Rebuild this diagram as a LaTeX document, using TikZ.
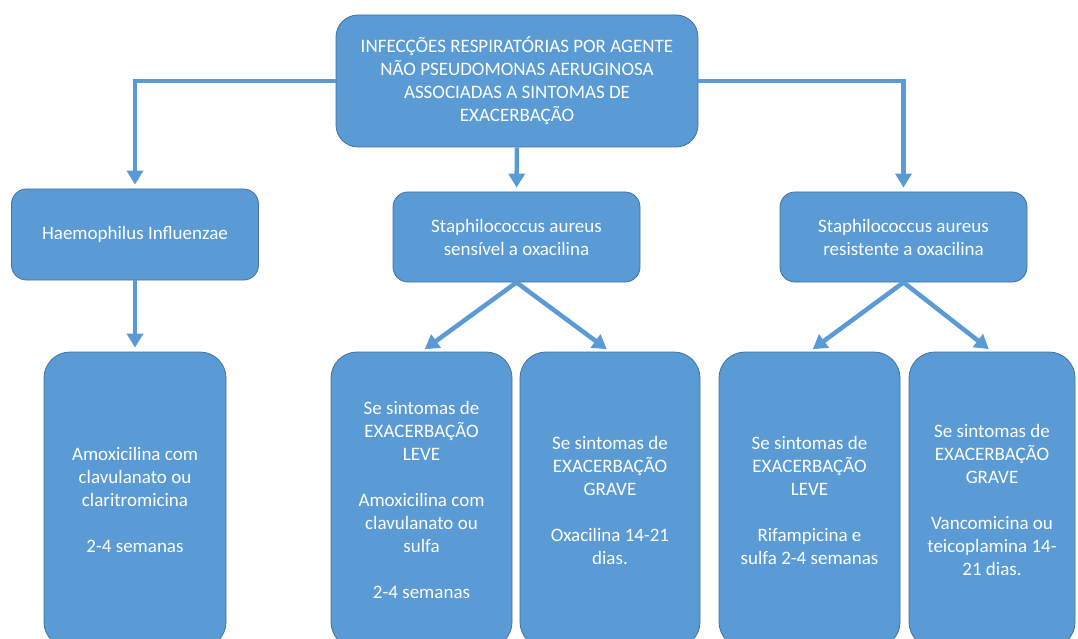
\documentclass[tikz,border=0pt]{standalone}
\usepackage{fontspec}
\setmainfont{Carlito}
\usetikzlibrary{arrows.meta}

\definecolor{boxblue}{HTML}{5B9BD5}
\definecolor{boxedge}{HTML}{41719C}

\begin{document}
\begin{tikzpicture}[x=1pt, y=-1pt,
    box/.style={draw=boxedge, line width=0.8pt, fill=boxblue, text=white,
        align=center, inner sep=0pt, font=\fontsize{19}{23}\selectfont},
    arrow/.style={draw=boxblue, line width=4.5pt,
        -{Triangle[width=16pt,length=14pt]}, shorten >=4pt}]
\useasboundingbox (0,0) rectangle (1078,639);
\clip (0,0) rectangle (1078,639);

% Draw top box.
\node[box, minimum width=362, minimum height=132, rounded corners=22pt]
    (infeccao) at (517,81)
    {INFECÇÕES RESPIRATÓRIAS POR AGENTE\\NÃO PSEUDOMONAS AERUGINOSA\\
     ASSOCIADAS A SINTOMAS DE\\EXACERBAÇÃO};

% Draw agent boxes.
\node[box, minimum width=247, minimum height=91, rounded corners=15pt]
    (haemophilus) at (135,234.5) {Haemophilus Influenzae};
\node[box, minimum width=247, minimum height=90, rounded corners=15pt]
    (sensivel) at (516.5,237) {Staphilococcus aureus\\sensível a oxacilina};
\node[box, minimum width=247, minimum height=90, rounded corners=15pt]
    (resistente) at (903.5,237) {Staphilococcus aureus\\resistente a oxacilina};

% Draw treatment boxes.
\node[box, minimum width=182, minimum height=296, rounded corners=26pt]
    (amoxicilina) at (135,500)
    {Amoxicilina com\\clavulanato ou\\claritromicina\\[23pt]2-4 semanas};
\node[box, minimum width=181, minimum height=296, rounded corners=26pt]
    (leveSens) at (421.5,500)
    {Se sintomas de\\EXACERBAÇÃO\\LEVE\\[23pt]Amoxicilina com\\clavulanato ou\\sulfa\\[23pt]2-4 semanas};
\node[box, minimum width=180, minimum height=296, rounded corners=26pt]
    (graveSens) at (610,500)
    {Se sintomas de\\EXACERBAÇÃO\\GRAVE\\[23pt]Oxacilina 14-21\\dias.};
\node[box, minimum width=181, minimum height=296, rounded corners=26pt]
    (leveRes) at (809.5,500)
    {Se sintomas de\\EXACERBAÇÃO\\LEVE\\[23pt]Rifampicina e\\sulfa 2-4 semanas};
\node[box, minimum width=166, minimum height=296, rounded corners=26pt]
    (graveRes) at (992,500)
    {Se sintomas de\\EXACERBAÇÃO\\GRAVE\\[23pt]Vancomicina ou\\teicoplamina 14-\\21 dias.};

% Draw connectors.
\draw[arrow] (infeccao.west) -| (haemophilus.north);
\draw[arrow] (infeccao.south) -- (sensivel.north);
\draw[arrow] (infeccao.east) -| (resistente.north);
\draw[arrow] (haemophilus.south) -- (amoxicilina.north);
\draw[arrow] (sensivel.south) -- (leveSens.north);
\draw[arrow] (sensivel.south) -- (graveSens.north);
\draw[arrow] (resistente.south) -- (leveRes.north);
\draw[arrow] (resistente.south) -- (graveRes.north);

\end{tikzpicture}
\end{document}
